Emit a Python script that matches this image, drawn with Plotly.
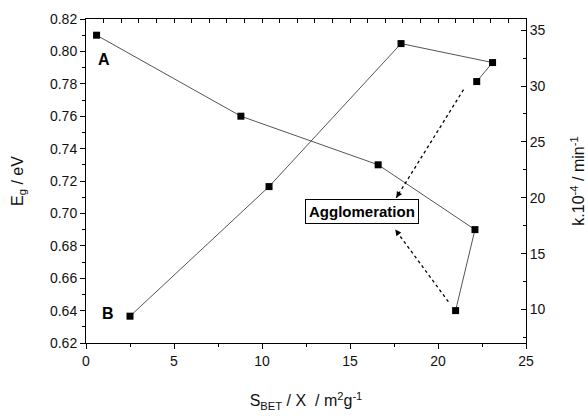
import plotly.graph_objects as go

# Series A: band gap (left axis)
sbet_a = [0.6, 8.8, 16.6, 22.1, 21.0]
eg = [0.810, 0.760, 0.730, 0.690, 0.640]

# Series B: rate constant (right axis)
sbet_b = [2.5, 10.4, 17.9, 23.1, 22.2]
k_rate = [9.4, 21.0, 33.8, 32.1, 30.4]

FONT = "Liberation Sans, Arial, sans-serif"
line_style = dict(color="#555555", width=1)
marker_style = dict(symbol="square", size=7, color="black")

fig = go.Figure()
fig.add_trace(go.Scatter(x=sbet_a, y=eg, mode="lines+markers",
                         line=line_style, marker=marker_style,
                         xaxis="x", yaxis="y", showlegend=False))
fig.add_trace(go.Scatter(x=sbet_b, y=k_rate, mode="lines+markers",
                         line=line_style, marker=marker_style,
                         xaxis="x", yaxis="y2", showlegend=False))

tickfont = dict(family=FONT, size=14, color="#111")
titlefont = dict(family=FONT, size=16, color="#111")

fig.update_layout(
    width=588, height=416,
    margin=dict(l=86, r=62, t=19, b=73),
    paper_bgcolor="white", plot_bgcolor="white",
    font=dict(family=FONT, color="#111"),
    xaxis=dict(range=[0, 25], dtick=5, tick0=0, ticks="outside", ticklen=5,
               tickcolor="black", showline=True, linecolor="black", linewidth=1,
               showgrid=False, zeroline=False, tickfont=tickfont, automargin=False,
               minor=dict(dtick=2.5, ticks="outside", ticklen=3, tickcolor="black"),
               title=dict(text="S<sub>BET</sub> / X  / m<sup>2</sup>g<sup>-1</sup>",
                          font=titlefont, standoff=27)),
    xaxis2=dict(range=[0, 25], overlaying="x", side="top", dtick=1, tick0=0,
                ticks="inside", ticklen=4, tickcolor="black", showticklabels=False,
                showline=True, linecolor="black", linewidth=1, showgrid=False,
                zeroline=False, automargin=False),
    yaxis=dict(range=[0.62, 0.82], dtick=0.02, tick0=0.62, tickformat=".2f",
               ticks="outside", ticklen=5, tickcolor="black", showline=True,
               linecolor="black", linewidth=1, showgrid=False, zeroline=False,
               tickfont=tickfont, automargin=False,
               minor=dict(dtick=0.01, ticks="outside", ticklen=3, tickcolor="black"),
               title=dict(text="E<sub>g</sub> / eV", font=titlefont, standoff=22)),
    yaxis2=dict(range=[7, 36], overlaying="y", side="right", dtick=5, tick0=0,
                ticks="inside", ticklen=5, tickcolor="black", showline=True,
                linecolor="black", linewidth=1, showgrid=False, zeroline=False,
                tickfont=tickfont, automargin=False,
                minor=dict(dtick=2.5, ticks="inside", ticklen=3, tickcolor="black"),
                title=dict(text="k.10<sup>-4</sup> / min<sup>-1</sup>",
                           font=titlefont, standoff=28)),
)

# dummy trace to activate top axis
fig.add_trace(go.Scatter(x=[None], y=[None], xaxis="x2", yaxis="y",
                         showlegend=False, hoverinfo="skip"))

fig.add_annotation(x=1.0, y=0.795, xref="x", yref="y", text="<b>A</b>",
                   showarrow=False, font=dict(family=FONT, size=16, color="black"))
fig.add_annotation(x=1.27, y=0.638, xref="x", yref="y", text="<b>B</b>",
                   showarrow=False, font=dict(family=FONT, size=16, color="black"))

fig.add_annotation(x=15.7, y=0.701, xref="x", yref="y", text="<b>Agglomeration</b>",
                   showarrow=False, font=dict(family=FONT, size=15, color="black"),
                   bordercolor="black", borderwidth=1, borderpad=3, bgcolor="white")

# dotted arrows: dotted line + short arrowhead
arrows = [
    (21.45, 0.7764, 17.63, 0.7097, 3.2, -5.1),
    (20.59, 0.6455, 17.57, 0.690, 3.6, 4.8),
]
for (tx, ty, hx, hy, pax, pay) in arrows:
    fig.add_shape(type="line", x0=tx, y0=ty, x1=hx, y1=hy, xref="x", yref="y",
                  line=dict(color="black", width=1.3, dash="dot"))
    fig.add_annotation(x=hx, y=hy, ax=pax, ay=pay, xref="x", yref="y",
                       text="", showarrow=True, arrowhead=2, arrowsize=1.2,
                       arrowwidth=1, arrowcolor="black")

fig.write_html("out.html")
